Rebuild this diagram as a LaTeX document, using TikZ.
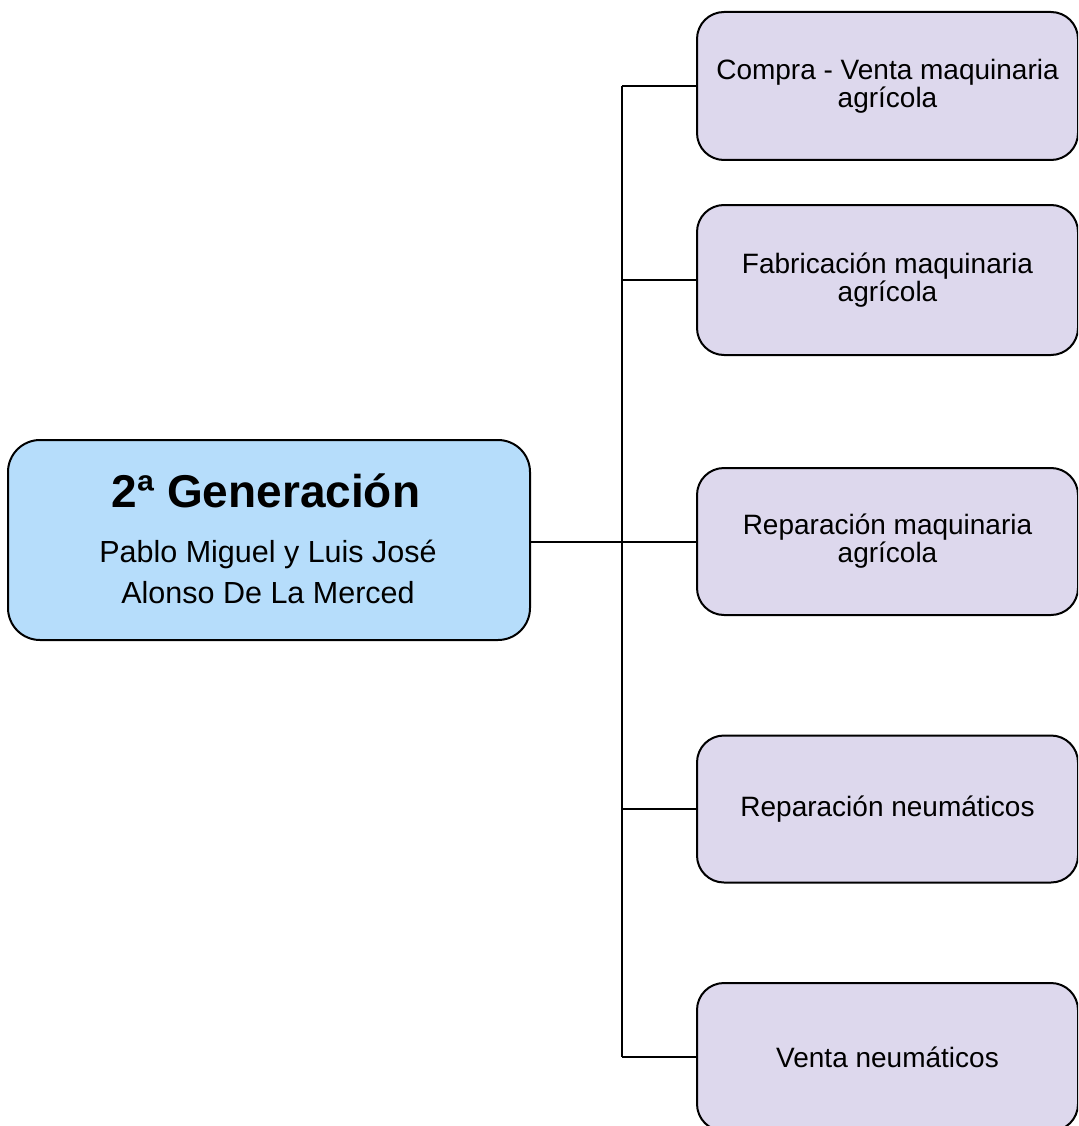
\documentclass[tikz,border=0pt]{standalone}
\usepackage{fontspec}
\setmainfont{Liberation Sans}
\definecolor{mainfill}{RGB}{182,221,251}
\definecolor{leaffill}{RGB}{221,216,237}
\begin{document}
\begin{tikzpicture}[x=1pt,y=-1pt,
  rootbox/.style={draw=black, line width=2pt, fill=mainfill, rounded corners=32pt,
    minimum width=522pt, minimum height=200pt, inner sep=0pt},
  leafbox/.style={draw=black, line width=2pt, fill=leaffill, rounded corners=27pt,
    minimum width=381pt, minimum height=148pt, inner sep=0pt, align=center,
    font=\fontsize{28}{28}\selectfont},
  link/.style={draw=black, line width=1.6pt},
  mainlink/.style={draw=black, line width=2.8pt}]
\useasboundingbox (0,0) rectangle (1078,1126);
\clip (0,0) rectangle (1078,1126);
\fill[white] (0,0) rectangle (1078,1126);

% root node and its text lines
\node[rootbox] (root) at (269,540) {};
\node[anchor=base, font=\fontsize{46}{52}\selectfont\bfseries] (title) at (266,507) {2ª Generación};
\node[anchor=base, font=\fontsize{30.5}{36}\selectfont] (names1) at (268,562) {Pablo Miguel y Luis José};
\node[anchor=base, font=\fontsize{30.5}{36}\selectfont] (names2) at (268,603) {Alonso De La Merced};

% activity boxes
\node[leafbox] (b1) at (887.5,86) {Compra - Venta maquinaria\\agrícola};
\node[leafbox, minimum height=150pt] (b2) at (887.5,280) {Fabricación maquinaria\\agrícola};
\node[leafbox, minimum height=147pt] (b3) at (887.5,541.5) {Reparación maquinaria\\agrícola};
\node[leafbox, minimum height=147pt] (b4) at (887.5,809) {Reparación neumáticos};
\node[leafbox] (b5) at (887.5,1057) {Venta neumáticos};

% bus line and branches
\coordinate (hub) at (622,542);
\draw[mainlink] (root.east |- hub) -- (hub);
\draw[link] (hub |- b1.west) -- (hub |- b5.west);
\draw[link] (hub |- b1.west) -- (b1.west);
\draw[link] (hub |- b2.west) -- (b2.west);
\draw[link] (hub) -- (b3.west |- hub);
\draw[link] (hub |- b4.west) -- (b4.west);
\draw[link] (hub |- b5.west) -- (b5.west);
\end{tikzpicture}
\end{document}
